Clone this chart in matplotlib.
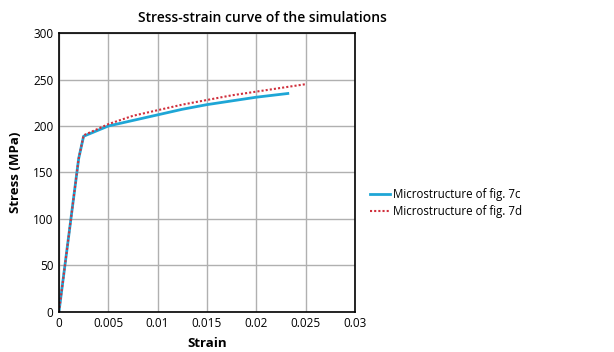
import numpy as np
import matplotlib
matplotlib.use('Agg')
import matplotlib.pyplot as plt

plt.rcParams['font.family'] = ['Open Sans', 'DejaVu Sans']

strain_c = [0, 0.002, 0.0025, 0.005, 0.0075, 0.01, 0.0125, 0.015, 0.0175, 0.02, 0.0232]
stress_c = [0, 165, 189, 200, 206, 212, 218, 223, 227, 231, 235]
strain_d = [0, 0.002, 0.0025, 0.005, 0.0075, 0.01, 0.0125, 0.015, 0.0175, 0.02, 0.0225, 0.025]
stress_d = [0, 165, 190, 202, 211, 217, 223, 228, 233, 237, 241, 245]

label_c = 'Microstructure of fig. 7c'
label_d = 'Microstructure of fig. 7d'

fig = plt.figure(figsize=(6.14, 3.52), dpi=100)
ax = fig.add_axes([0.096, 0.114, 0.482, 0.792])

ax.plot(strain_c, stress_c, color='#1ea6d6', lw=2, label=label_c)
ax.plot(strain_d, stress_d, color='#d02f3c', lw=1.5, ls=(0, (1, 1)), label=label_d)

ax.set_xlim(0, 0.03)
ax.set_ylim(0, 300)
ax.set_xticks([0, 0.005, 0.01, 0.015, 0.02, 0.025, 0.03])
ax.set_xticklabels(['0', '0.005', '0.01', '0.015', '0.02', '0.025', '0.03'])
ax.set_yticks(np.arange(0, 301, 50))
ax.tick_params(length=0, labelsize=8.5, pad=4)
ax.grid(True, color='#b0b0b0', lw=1)
ax.set_axisbelow(True)
for s in ax.spines.values():
    s.set_linewidth(1.2)
    s.set_color('black')

ax.set_xlabel('Strain', fontsize=9.5, fontweight='bold', labelpad=5)
ax.set_ylabel('Stress (MPa)', fontsize=9.5, fontweight='bold', labelpad=8)
fig.text(0.427, 0.95, 'Stress-strain curve of the simulations', ha='center', va='center',
         fontsize=10, fontweight='semibold')

ax.legend(loc='center left', bbox_to_anchor=(1.015, 0.39), frameon=False, fontsize=8.3,
          handlelength=1.8, handletextpad=0.2, labelspacing=0.3)

fig.savefig('out.png', dpi=100)
